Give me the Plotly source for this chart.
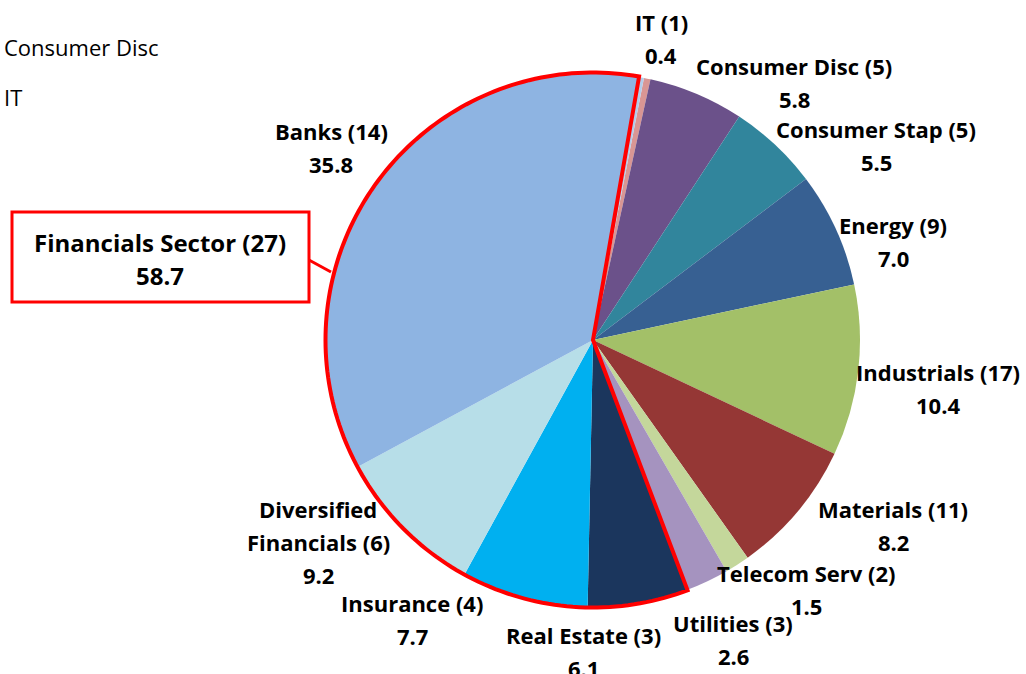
import math
import plotly.graph_objects as go

# ---- data ----
sectors = ["IT", "Consumer Disc", "Consumer Stap", "Energy", "Industrials", "Materials",
           "Telecom Serv", "Utilities", "Real Estate", "Insurance",
           "Diversified Financials", "Banks", "Other"]
counts = [1, 5, 5, 9, 17, 11, 2, 3, 3, 4, 6, 14, None]
weights = [0.4, 5.8, 5.5, 7.0, 10.4, 8.2, 1.5, 2.6, 6.1, 7.7, 9.2, 35.8, 0.3]
financials = ["Real Estate", "Insurance", "Diversified Financials", "Banks"]
fin_label = "Financials Sector (27)"
fin_value = 58.7
side_texts = ["Consumer Disc", "IT"]

colors = ["#D99694", "#6B518A", "#31859C", "#376092", "#A3C068", "#953735",
          "#C4D79B", "#A593BF", "#1B365D", "#00B0F0", "#B7DEE8", "#8EB4E2", "#B3CDEB"]

W, H = 1026, 674
CX, CY, R = 593, 340, 267
ROT = 11.0
FONT = "'Open Sans', Lato, sans-serif"
LS = 33  # line spacing in px

fig = go.Figure(go.Pie(
    labels=sectors, values=weights, sort=False, direction="clockwise",
    rotation=ROT, textinfo="none", hoverinfo="label+value",
    marker=dict(colors=colors, line=dict(width=0)),
    domain=dict(x=[(CX - R) / W, (CX + R) / W], y=[(H - CY - R) / H, (H - CY + R) / H]),
    showlegend=False,
))

# label layout: (centre x, first-line centre y) in pixels
label_pos = {
    "IT": (661, 22), "Consumer Disc": (794, 66), "Consumer Stap": (876, 129),
    "Energy": (893, 225), "Industrials": (938, 372), "Materials": (893, 509),
    "Telecom Serv": (806, 573), "Utilities": (733, 623), "Real Estate": (583, 635),
    "Insurance": (412, 603), "Diversified Financials": (318, 509), "Banks": (331, 131),
}

def px(x, y):
    return x / W, 1 - y / H

annotations = []

def add_lines(lines, cx, cy0, size, bold=True):
    for k, t in enumerate(lines):
        x, y = px(cx, cy0 + LS * k)
        annotations.append(dict(x=x, y=y, xref="paper", yref="paper", text=t, showarrow=False,
                                font=dict(family=FONT, size=size, color="black",
                                          weight="bold" if bold else "normal"),
                                xanchor="center", yanchor="middle"))

for name, cnt, val in zip(sectors, counts, weights):
    if name not in label_pos:
        continue
    if name == "Diversified Financials":
        lines = ["Diversified", f"Financials ({cnt})", f"{val:.1f}"]
    else:
        lines = [f"{name} ({cnt})", f"{val:.1f}"]
    add_lines(lines, *label_pos[name], size=22)

add_lines([fin_label, f"{fin_value:.1f}"], 160, 243, size=24)

for i, t in enumerate(side_texts):
    x, y = px(2, 47 + 50 * i)
    annotations.append(dict(x=x, y=y, xref="paper", yref="paper", text=t, showarrow=False,
                            font=dict(family=FONT, size=22, color="black"),
                            xanchor="left", yanchor="middle"))

# red outline around the financial slices, computed from the data
total = sum(weights)
cum = 0.0
starts = {}
for name, v in zip(sectors, weights):
    starts[name] = (cum, cum + v)
    cum += v
a0 = ROT + starts[financials[0]][0] / total * 360
a1 = ROT + starts[financials[-1]][1] / total * 360
rr = R + 0.5
pts = [(CX, CY)]
n = 160
for k in range(n + 1):
    a = math.radians(a0 + (a1 - a0) * k / n)
    pts.append((CX + rr * math.sin(a), CY - rr * math.cos(a)))
path = "M " + " L ".join(f"{x / W:.5f},{1 - y / H:.5f}" for x, y in pts) + " Z"

shapes = [
    dict(type="path", path=path, xref="paper", yref="paper",
         line=dict(color="#FF0000", width=4), fillcolor="rgba(0,0,0,0)"),
    dict(type="rect", xref="paper", yref="paper",
         x0=12 / W, x1=309 / W, y0=1 - 302 / H, y1=1 - 212 / H,
         line=dict(color="#FF0000", width=3), fillcolor="white", layer="below"),
    dict(type="line", xref="paper", yref="paper",
         x0=309 / W, y0=1 - 260 / H, x1=331 / W, y1=1 - 272 / H,
         line=dict(color="#FF0000", width=3)),
]

fig.update_layout(
    width=W, height=H, autosize=False,
    margin=dict(l=0, r=0, t=0, b=0),
    paper_bgcolor="white", plot_bgcolor="white",
    annotations=annotations, shapes=shapes,
)

fig.write_html("out.html", config={"displayModeBar": False},
               post_script="document.body.style.margin='0';document.body.style.overflow='hidden';")
